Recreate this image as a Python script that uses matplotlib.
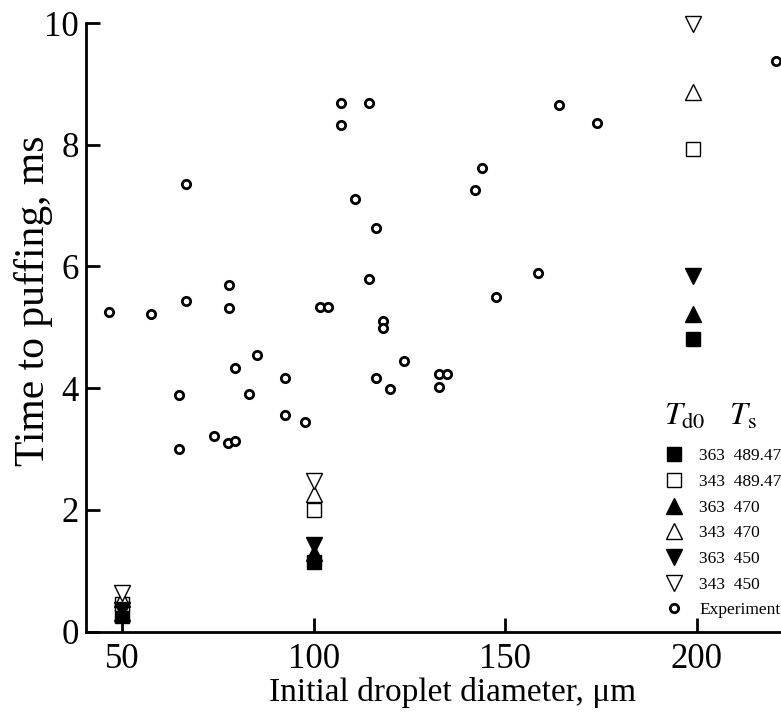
import matplotlib
matplotlib.use('Agg')
import matplotlib.pyplot as plt

# ---- experiment data (initial diameter um, time to puffing ms) ----
exp_d = [46.5, 57.4, 66.6, 66.6, 77.8, 77.8, 101.6, 103.6, 107.1, 107.1,
         110.7, 114.4, 164.0, 173.9, 143.8, 142.0, 116.2, 114.3, 158.5, 147.5,
         118.1, 118.1, 123.5, 116.2, 120.0, 132.8, 134.8, 132.8, 97.8, 85.1,
         79.3, 92.5, 64.8, 83.1, 92.5, 73.9, 77.6, 79.5, 64.8, 220.7]
exp_t = [5.25, 5.21, 7.36, 5.43, 5.69, 5.32, 5.33, 5.33, 8.69, 8.32,
         7.11, 8.68, 8.66, 8.36, 7.61, 7.25, 6.63, 5.79, 5.90, 5.49,
         5.10, 4.98, 4.45, 4.16, 3.99, 4.23, 4.24, 4.02, 3.45, 4.54,
         4.33, 4.17, 3.89, 3.91, 3.55, 3.22, 3.09, 3.13, 3.00, 9.37]

# ---- model results (T_d0, T_s) ----
model_d = [50, 100, 199]
t_363_489 = [0.25, 1.15, 4.80]
t_343_489 = [0.45, 2.00, 7.93]
t_363_470 = [0.30, 1.29, 5.21]
t_343_470 = [0.53, 2.26, 8.86]
t_363_450 = [0.36, 1.42, 5.84]
t_343_450 = [0.63, 2.48, 9.98]
labels = ["363  489.47", "343  489.47", "363  470", "343  470",
          "363  450", "343  450", "Experiment"]

plt.rcParams['font.family'] = ['Liberation Serif', 'DejaVu Serif']
plt.rcParams['mathtext.fontset'] = 'stix'

fig = plt.figure(figsize=(7.81, 7.13), dpi=100)
ax = fig.add_axes([0.110, 0.1143, 0.890, 0.8534])

series = [
    (t_363_489, 's', 'black', 9.5),
    (t_343_489, 's', 'white', 10.5),
    (t_363_470, '^', 'black', 12),
    (t_343_470, '^', 'white', 12),
    (t_363_450, 'v', 'black', 12),
    (t_343_450, 'v', 'white', 12),
]
handles = []
for vals, mk, fc, ms in series:
    ln, = ax.plot(model_d, vals, linestyle='none', marker=mk, markersize=ms,
                  markerfacecolor=fc, markeredgecolor='black',
                  markeredgewidth=1.0, clip_on=False)
    handles.append(ln)

ln, = ax.plot(exp_d, exp_t, linestyle='none', marker='o', markersize=6,
              markerfacecolor='white', markeredgecolor='black',
              markeredgewidth=2.0, clip_on=False)
handles.append(ln)

ax.set_xlim(40.5, 222)
ax.set_ylim(0, 10)
ax.set_xticks([50, 100, 150, 200])
ax.set_yticks([0, 2, 4, 6, 8, 10])

for s in ['top', 'right']:
    ax.spines[s].set_visible(False)
for s in ['left', 'bottom']:
    ax.spines[s].set_linewidth(2.0)

ax.tick_params(direction='in', length=10, width=2.0, labelsize=25)
ax.tick_params(axis='x', pad=8)
ax.tick_params(axis='y', pad=5)

ax.set_xlabel("Initial droplet diameter, \u03bcm", fontsize=24)
ax.set_ylabel("Time to puffing, ms", fontsize=30)
ax.xaxis.set_label_coords(0.527, -0.074)
ax.yaxis.set_label_coords(-0.047, 0.544)

leg = ax.legend(handles, labels, loc='lower right', frameon=False,
                fontsize=12.5, handletextpad=0.45, labelspacing=0.55,
                borderaxespad=0.0, borderpad=0.3,
                bbox_to_anchor=(1.008, 0.013))
# column header of the legend
ax.text(0.832, 0.339, r"$T_{\rm d0}$   $T_{\rm s}$", transform=ax.transAxes,
        fontsize=23, va='baseline', ha='left')

fig.savefig('out.png', dpi=100)
